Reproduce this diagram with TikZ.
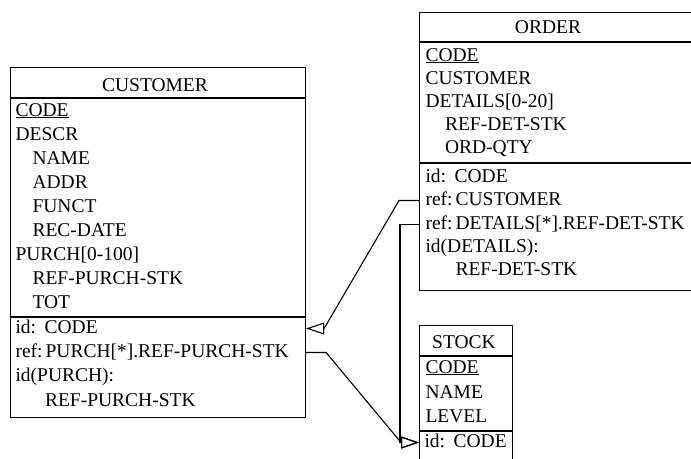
\documentclass[tikz,border=0pt]{standalone}
\usepackage{fontspec}
\setmainfont{Liberation Serif}
\usetikzlibrary{arrows.meta}
\tikzset{
  entbox/.style={draw, anchor=north west, inner sep=0pt},
  enttitle/.style={anchor=base, inner sep=0pt},
  attr/.style={anchor=base west, inner sep=0pt, text height=9pt, text depth=0pt},
  isa/.style={-{Triangle[open,length=18pt,width=12pt]}}
}
\newcommand{\idlbl}{id:\hspace{8.5pt}}
\newcommand{\reflbl}{ref:\hspace{3pt}}
\begin{document}
\begin{tikzpicture}[x=1pt, y=-1pt, line width=1.1pt, every node/.style={font=\fontsize{19.5}{24}\selectfont}]
\useasboundingbox (0,0) rectangle (691,458);
% CUSTOMER
\node[entbox, minimum width=295pt, minimum height=350pt] (cust) at (10,67) {};
\draw (cust.west |- 0,98) -- (cust.east |- 0,98);
\draw (cust.west |- 0,317) -- (cust.east |- 0,317);
\node[enttitle] (custtitle) at (155,91) {CUSTOMER};
\node[attr] (custcode) at (15,116) {\underline{CODE}};
\node[attr] (custdescr) at (15,140) {DESCR};
\node[attr] (custname) at (32,164) {NAME};
\node[attr] (custaddr) at (32,188) {ADDR};
\node[attr] (custfunct) at (32,212) {FUNCT};
\node[attr] (custdate) at (32,236) {REC-DATE};
\node[attr] (custpurch) at (15,260) {PURCH[0-100]};
\node[attr] (custrefstk) at (32,284) {REF-PURCH-STK};
\node[attr] (custtot) at (32,308) {TOT};
\node[attr] (custid) at (15,333) {\idlbl CODE};
\node[attr] (custref) at (15,357) {\reflbl PURCH[*].REF-PURCH-STK};
\node[attr] (custidp) at (15,381) {id(PURCH):};
\node[attr] (custidpstk) at (44.5,406) {REF-PURCH-STK};
% ORDER
\node[entbox, minimum width=285pt, minimum height=278pt] (ord) at (419,12) {};
\draw (ord.west |- 0,42) -- (ord.east |- 0,42);
\draw (ord.west |- 0,163) -- (ord.east |- 0,163);
\node[enttitle] (ordtitle) at (548,33) {ORDER};
\node[attr] (ordcode) at (425,61) {\underline{CODE}};
\node[attr] (ordcust) at (425,84) {CUSTOMER};
\node[attr] (orddet) at (425,107) {DETAILS[0-20]};
\node[attr] (orddetstk) at (444.5,130) {REF-DET-STK};
\node[attr] (ordqty) at (444.5,153) {ORD-QTY};
\node[attr] (ordid) at (425,182) {\idlbl CODE};
\node[attr] (ordrefc) at (425,205) {\reflbl CUSTOMER};
\node[attr] (ordrefd) at (425,229) {\reflbl DETAILS[*].REF-DET-STK};
\node[attr] (ordidd) at (425,252) {id(DETAILS):};
\node[attr] (ordiddstk) at (455,275) {REF-DET-STK};
% STOCK
\node[entbox, minimum width=93pt, minimum height=200pt] (stock) at (419,325) {};
\draw (stock.west |- 0,356) -- (stock.east |- 0,356);
\draw (stock.west |- 0,431) -- (stock.east |- 0,431);
\node[enttitle] (stocktitle) at (464,348) {STOCK};
\node[attr] (stockcode) at (425,373) {\underline{CODE}};
\node[attr] (stockname) at (425,398) {NAME};
\node[attr] (stocklevel) at (425,422) {LEVEL};
\node[attr] (stockid) at (424,447) {\idlbl CODE};
% references
\draw[isa] (ord.west |- ordrefc.west) -- ++(-20,0) -- ([xshift=18pt]cust.east |- custid.west) -- (cust.east |- custid.west);
\draw[isa] (cust.east |- custref.west) -- ++(20,0) -- ([xshift=-18pt]stock.west |- stockid.west) -- (stock.west |- stockid.west);
\draw[isa] (ord.west |- ordrefd.west) -- ++(-19,0) |- (stock.west |- stockid.west);
\end{tikzpicture}
\end{document}
